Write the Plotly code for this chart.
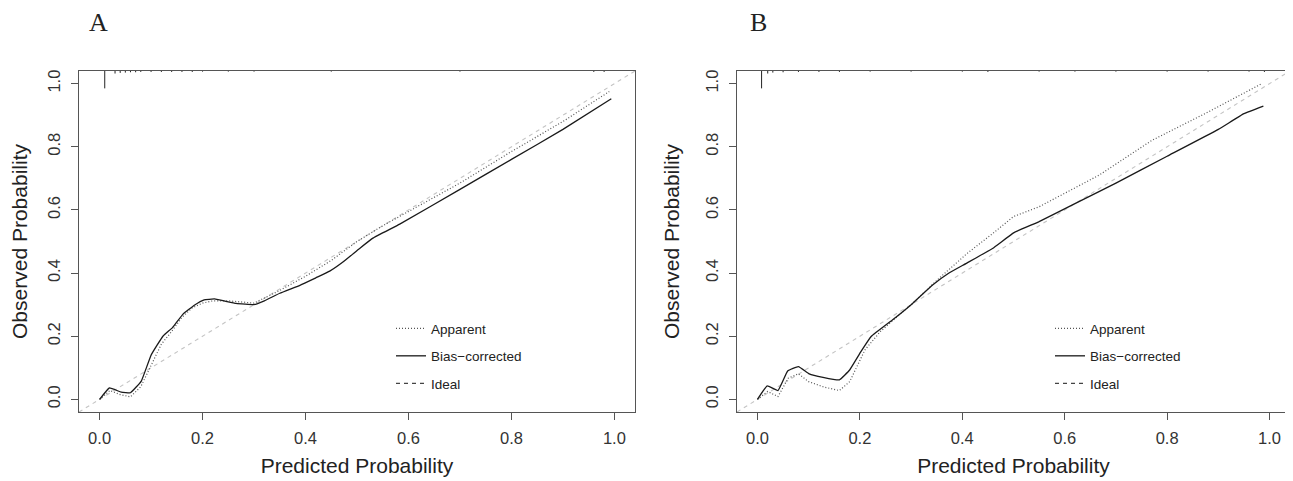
import plotly.graph_objects as go
from plotly.subplots import make_subplots

# ---------------- Data ----------------
# Panel A
a_app_x = [0, 0.02, 0.04, 0.06, 0.08, 0.10, 0.12, 0.14, 0.16, 0.18, 0.20, 0.22, 0.25, 0.30,
           0.35, 0.40, 0.45, 0.50, 0.55, 0.60, 0.70, 0.80, 0.90, 0.99]
a_app_y = [0, 0.028, 0.015, 0.008, 0.04, 0.11, 0.175, 0.215, 0.26, 0.29, 0.305, 0.312, 0.312, 0.305,
           0.345, 0.39, 0.44, 0.50, 0.55, 0.595, 0.685, 0.785, 0.88, 0.975]
a_bc_x = [0, 0.019, 0.042, 0.06, 0.081, 0.10, 0.123, 0.142, 0.162, 0.184, 0.203, 0.223, 0.265, 0.30,
          0.32, 0.35, 0.39, 0.42, 0.447, 0.472, 0.505, 0.53, 0.583, 0.70, 0.80, 0.90, 0.994]
a_bc_y = [0, 0.036, 0.023, 0.021, 0.058, 0.14, 0.20, 0.228, 0.27, 0.298, 0.315, 0.318, 0.304, 0.30,
          0.312, 0.336, 0.362, 0.385, 0.406, 0.434, 0.478, 0.51, 0.555, 0.665, 0.76, 0.855, 0.952]
a_rug_x = [0.01, 0.03, 0.04, 0.05, 0.06, 0.07, 0.08, 0.10, 0.12, 0.14, 0.16, 0.18, 0.20, 0.25, 0.30, 0.45, 0.70, 0.96, 0.98]
a_rug_h = [0.055, 0.008, 0.006, 0.005, 0.004, 0.004, 0.003, 0.003, 0.003, 0.003, 0.003, 0.003, 0.002, 0.002, 0.002, 0.002, 0.002, 0.003, 0.003]

# Panel B
b_app_x = [0, 0.02, 0.04, 0.06, 0.08, 0.10, 0.13, 0.16, 0.18, 0.21, 0.24, 0.30, 0.355, 0.41,
           0.46, 0.50, 0.55, 0.667, 0.77, 0.88, 0.985]
b_app_y = [0, 0.025, 0.009, 0.067, 0.081, 0.056, 0.039, 0.028, 0.056, 0.157, 0.215, 0.30, 0.384, 0.463,
           0.526, 0.579, 0.61, 0.71, 0.82, 0.91, 1.0]
b_bc_x = [0, 0.019, 0.04, 0.059, 0.08, 0.101, 0.128, 0.16, 0.18, 0.202, 0.222, 0.264, 0.303, 0.342,
          0.374, 0.407, 0.459, 0.501, 0.55, 0.62, 0.70, 0.80, 0.90, 0.95, 0.988]
b_bc_y = [0, 0.043, 0.028, 0.09, 0.104, 0.081, 0.07, 0.062, 0.093, 0.151, 0.199, 0.252, 0.304, 0.362,
          0.40, 0.43, 0.478, 0.528, 0.563, 0.62, 0.685, 0.77, 0.855, 0.905, 0.929]
b_rug_x = [0.008, 0.02, 0.03, 0.05, 0.08, 0.12, 0.16, 0.22, 0.30, 0.40, 0.45, 0.55, 0.62, 0.70, 0.80, 0.88, 0.96, 0.99]
b_rug_h = [0.055, 0.008, 0.005, 0.004, 0.003, 0.003, 0.003, 0.002, 0.002, 0.002, 0.003, 0.002, 0.002, 0.002, 0.002, 0.002, 0.002, 0.003]

ideal_x = [-0.04, 1.04]
ideal_y = [-0.04, 1.04]

tick_vals = [0, 0.2, 0.4, 0.6, 0.8, 1.0]
tick_text = ["0.0", "0.2", "0.4", "0.6", "0.8", "1.0"]
legend_names = ["Apparent", "Bias\u2212corrected", "Ideal"]
panel_labels = ["A", "B"]

TOP = 1.04

# ---------------- Layout geometry ----------------
# page body has an 8px margin, so the figure is offset by 8px
OFF = 8
W = 1293 - OFF
H = 481 - OFF


def fx(px):
    return (px - OFF) / W


def fy(py):
    return 1 - (py - OFF) / H


# ---------------- Figure ----------------
fig = make_subplots(rows=1, cols=2)

FONT = "Liberation Sans, Arial, sans-serif"
APP_COLOR = "#555555"
BC_COLOR = "#1a1a1a"
IDEAL_COLOR = "#c4c4c4"


def rug(xs, hs):
    rx, ry = [], []
    for x, h in zip(xs, hs):
        rx += [x, x, None]
        ry += [TOP, TOP - h, None]
    return rx, ry


panels = [
    (a_app_x, a_app_y, a_bc_x, a_bc_y, a_rug_x, a_rug_h, "legend"),
    (b_app_x, b_app_y, b_bc_x, b_bc_y, b_rug_x, b_rug_h, "legend2"),
]

for i, (ax_, ay_, bx_, by_, rx_, rh_, leg) in enumerate(panels, start=1):
    fig.add_trace(go.Scatter(x=ideal_x, y=ideal_y, mode="lines",
                             line=dict(color=IDEAL_COLOR, width=1.1, dash="4px,4px"),
                             showlegend=False, hoverinfo="skip"), row=1, col=i)
    rx, ry = rug(rx_, rh_)
    fig.add_trace(go.Scatter(x=rx, y=ry, mode="lines", line=dict(color="#222222", width=1),
                             showlegend=False, hoverinfo="skip"), row=1, col=i)
    fig.add_trace(go.Scatter(x=ax_, y=ay_, mode="lines", name=legend_names[0],
                             line=dict(color=APP_COLOR, width=1.2, dash="1px,2px"),
                             legend=leg, legendgroup=f"a{i}"), row=1, col=i)
    fig.add_trace(go.Scatter(x=bx_, y=by_, mode="lines", name=legend_names[1],
                             line=dict(color=BC_COLOR, width=1.3, shape="spline", smoothing=0.3),
                             legend=leg, legendgroup=f"b{i}"), row=1, col=i)
    fig.add_trace(go.Scatter(x=[None], y=[None], mode="lines", name=legend_names[2],
                             line=dict(color="#444444", width=1.1, dash="4px,4px"),
                             legend=leg, legendgroup=f"c{i}"), row=1, col=i)

axis_common = dict(range=[-0.04, 1.04], tickvals=tick_vals, ticktext=tick_text,
                   showgrid=False, zeroline=False, showline=True, mirror=True,
                   linecolor="#555555", linewidth=1.3, ticks="outside", ticklen=7,
                   tickcolor="#555555", tickwidth=1.3, automargin=False,
                   tickfont=dict(family=FONT, size=16.5, color="#333333"))

fig.update_xaxes(**axis_common, ticklabelstandoff=4)
fig.update_yaxes(**axis_common, ticklabelstandoff=4)

title_font = dict(family=FONT, size=21, color="#222222")

fig.update_layout(
    xaxis=dict(domain=[fx(79), fx(635)],
               title=dict(text="Predicted Probability", standoff=12, font=title_font)),
    xaxis2=dict(domain=[fx(737), fx(1290)],
                title=dict(text="Predicted Probability", standoff=12, font=title_font)),
    yaxis=dict(domain=[fy(412), fy(71)], tickangle=-90,
               title=dict(text="Observed Probability", standoff=17, font=title_font)),
    yaxis2=dict(domain=[fy(412), fy(71)], tickangle=-90,
                title=dict(text="Observed Probability", standoff=17, font=title_font)),
    width=W, height=H,
    margin=dict(l=0, r=0, t=0, b=0, autoexpand=False),
    paper_bgcolor="white", plot_bgcolor="white",
    legend=dict(x=fx(391), y=fy(313), xanchor="left", yanchor="top",
                bgcolor="rgba(0,0,0,0)", tracegroupgap=7,
                font=dict(family=FONT, size=13.5, color="#222222")),
    legend2=dict(x=fx(1050), y=fy(313), xanchor="left", yanchor="top",
                 bgcolor="rgba(0,0,0,0)", tracegroupgap=7,
                 font=dict(family=FONT, size=13.5, color="#222222")),
    annotations=[
        dict(text=panel_labels[0], x=fx(98), y=fy(22), xref="paper", yref="paper",
             showarrow=False, xanchor="center", yanchor="middle",
             font=dict(family="Liberation Serif, Times New Roman, serif", size=26, color="#222222")),
        dict(text=panel_labels[1], x=fx(758), y=fy(22), xref="paper", yref="paper",
             showarrow=False, xanchor="center", yanchor="middle",
             font=dict(family="Liberation Serif, Times New Roman, serif", size=26, color="#222222")),
    ],
)

fig.write_html("out.html")
